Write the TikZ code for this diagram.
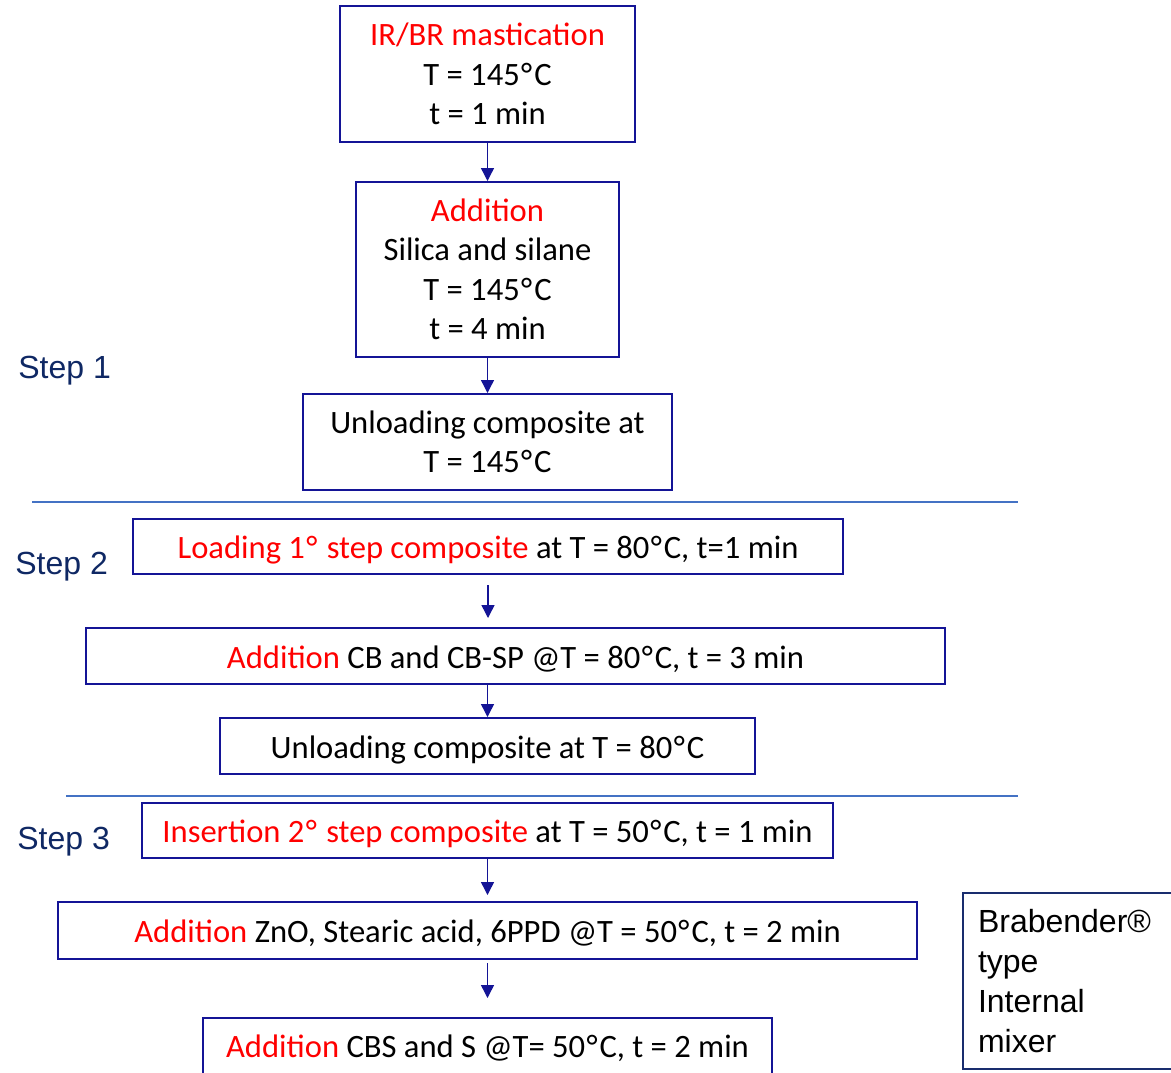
\documentclass[tikz,border=0pt]{standalone}
\usepackage{fontspec}
\setmainfont{Carlito}
\newfontfamily\arialf{Liberation Sans}
\usetikzlibrary{arrows.meta}
\definecolor{boxblue}{RGB}{20,20,150}
\definecolor{redt}{RGB}{255,0,0}
\definecolor{steptxt}{RGB}{15,40,100}
\definecolor{sepblue}{RGB}{68,114,196}
\definecolor{mixblue}{RGB}{25,45,110}
\newcommand{\dg}{\kern0.7pt°\kern1pt}
\begin{document}
\begin{tikzpicture}[x=0.5pt,y=-0.5pt,
  box/.style={draw=boxblue, line width=1pt, rectangle, align=center, inner sep=0pt,
    font=\fontsize{16.3}{19.75}\selectfont},
  onebox/.style={box, text height=12pt, text depth=0pt},
  plaintext/.style={inner sep=0pt, font=\fontsize{16.3}{19.75}\selectfont},
  flow/.style={draw=boxblue, line width=0.7pt, -{Triangle[width=6.5pt,length=6.5pt]}},
  steplabel/.style={anchor=west, inner sep=0pt, text=steptxt, font=\arialf\fontsize{16}{19}\selectfont},
  sepline/.style={draw=sepblue, line width=0.9pt}]
\useasboundingbox (0,0) rectangle (1171,1072);
% Step 1
\node[box, minimum width=147.5pt, minimum height=68pt] (b1) at (487.5,74)
  {\textcolor{redt}{IR/BR mastication}\\T = 145\dg C\\t = 1 min};
\node[box, minimum width=131.5pt, minimum height=87.5pt] (b2) at (487.5,269.5)
  {\textcolor{redt}{Addition}\\Silica and silane\\T = 145\dg C\\t = 4 min};
\node[box, minimum width=184.5pt, minimum height=48pt] (b3) at (487.5,442)
  {Unloading composite at\\T = 145\dg C};
% Step 2
\node[onebox, minimum width=355pt, minimum height=27.5pt] (b4) at (488,546.5)
  {\textcolor{redt}{Loading 1\dg{} step composite} at T = 80\dg C, t=1 min};
\node[onebox, minimum width=429.5pt, minimum height=28pt] (b5) at (515.5,656)
  {\textcolor{redt}{Addition} CB and CB-SP @T = 80\dg C, t = 3 min};
\node[onebox, minimum width=267.5pt, minimum height=28pt] (b6) at (487.5,746)
  {Unloading composite at T = 80\dg C};
% Step 3
\node[onebox, minimum width=345.5pt, minimum height=27.5pt] (b7) at (487.5,830)
  {\textcolor{redt}{Insertion 2\dg{} step composite} at T = 50\dg C, t = 1 min};
\node[onebox, minimum width=429.5pt, minimum height=28.5pt] (b8) at (487.5,930.5)
  {\textcolor{redt}{Addition} ZnO, Stearic acid, 6PPD @T = 50\dg C, t = 2 min};
\node[box, anchor=north, minimum width=284.5pt, minimum height=40pt] (b9) at (487.5,1017) {};
\node[plaintext, text height=12pt, text depth=0pt] (t9) at (487.5,1045)
  {\textcolor{redt}{Addition} CBS and S @T= 50\dg C, t = 2 min};
% mixer
\node[draw=mixblue, line width=1pt, anchor=west, align=left, text width=100pt,
  inner xsep=7.5pt, inner ysep=0pt, minimum height=88pt,
  font=\arialf\fontsize{16}{19.85}\selectfont] (mixer) at (962,981)
  {Brabender®\\type\\Internal\\mixer};
% step labels
\node[steplabel] (s1) at (18,371) {Step 1};
\node[steplabel] (s2) at (15,567) {Step 2};
\node[steplabel] (s3) at (17,842) {Step 3};
% separators
\coordinate (l1a) at (32,502);
\coordinate (l1b) at (1018,502);
\coordinate (l2a) at (66,796);
\coordinate (l2b) at (1018,796);
\draw[sepline] (l1a) -- (l1b);
\draw[sepline] (l2a) -- (l2b);
% arrows
\draw[flow] (b1.south) -- (b2.north);
\draw[flow] (b2.south) -- (b3.north);
\draw[flow, shorten <=5pt, shorten >=4.5pt] (b4.south) -- (b5.north -| b4.south);
\draw[flow] (b5.south -| b6.north) -- (b6.north);
\draw[flow, shorten >=3pt] (b7.south) -- (b8.north);
\draw[flow, shorten <=1.5pt, shorten >=9.5pt] (b8.south) -- (b9.north);
\end{tikzpicture}
\end{document}
